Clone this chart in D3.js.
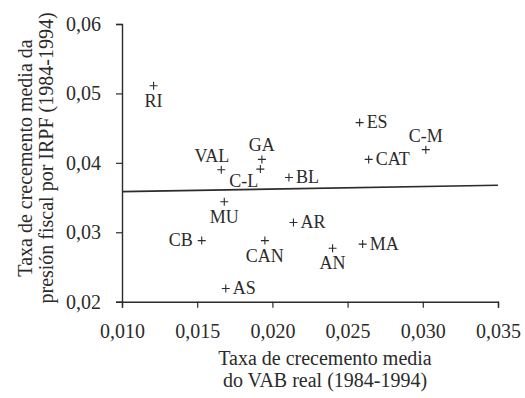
<!DOCTYPE html>
<html>
<head>
<meta charset="utf-8">
<script src="https://cdn.jsdelivr.net/npm/d3@7"></script>
<style>
html,body{margin:0;padding:0;background:#fff;}
svg{display:block;}
</style>
</head>
<body>
<svg id="chart" width="525" height="398" font-family="Liberation Serif"></svg>
<script>
// Data
const regions = ["RI","VAL","GA","C-L","BL","MU","AR","ES","CAT","C-M","CB","CAN","AN","MA","AS"];
const vabGrowth = [0.0121,0.0166,0.0193,0.0192,0.0211,0.0168,0.0214,0.0258,0.0264,0.0302,0.0153,0.0195,0.0240,0.0260,0.0169];
const irpfGrowth = [0.0511,0.0390,0.0405,0.0391,0.0379,0.0344,0.0314,0.0458,0.0405,0.0419,0.0288,0.0288,0.0277,0.0283,0.0219];
const labelPlacement = ["b","tl","t","bl","r","b","r","r","r","t","l","b","b","r","r"];
const xTicks = [0.010,0.015,0.020,0.025,0.030,0.035];
const yTicks = [0.02,0.03,0.04,0.05,0.06];
const trendX = [0.010,0.035];
const trendY = [0.03585,0.03677];
const xTitle = ["Taxa de crecemento media","do VAB real (1984-1994)"];
const yTitle = ["Taxa de crecemento media da","presión fiscal por IRPF (1984-1994)"];

const ink = "#2b2b2b";
const FONT = "Liberation Serif";
const svg = d3.select("#chart");
const x = d3.scaleLinear().domain([0.010,0.035]).range([122,498]);
const y = d3.scaleLinear().domain([0.02,0.06]).range([301.7,24]);
const fmt = (d,n) => d.toFixed(n).replace(".",",");

// X axis
const xAxis = d3.axisBottom(x).tickValues(xTicks).tickSize(6).tickPadding(4)
  .tickFormat(d => fmt(d,3));
const gx = svg.append("g").attr("transform",`translate(0,${y(0.02)})`).call(xAxis)
  .attr("font-family",FONT);
gx.select(".domain").attr("stroke",ink).attr("stroke-width",1.4);
gx.selectAll(".tick line").attr("stroke",ink).attr("stroke-width",1.2);
gx.selectAll(".tick text").attr("font-size",20).attr("font-family",FONT).attr("fill",ink)
  .attr("dy",null).attr("y",36);

// Y axis
const yAxis = d3.axisLeft(y).tickValues(yTicks).tickSize(6).tickPadding(15)
  .tickFormat(d => fmt(d,2));
const gy = svg.append("g").attr("transform",`translate(${x(0.010)},0)`).call(yAxis)
  .attr("font-family",FONT);
gy.select(".domain").attr("stroke",ink).attr("stroke-width",1.4);
gy.selectAll(".tick line").attr("stroke",ink).attr("stroke-width",1.2);
gy.selectAll(".tick text").attr("font-size",20).attr("font-family",FONT).attr("fill",ink)
  .attr("dy",null).attr("y",6.5);

// Trend line
svg.append("line")
  .attr("x1",x(trendX[0])).attr("y1",y(trendY[0]))
  .attr("x2",x(trendX[1])).attr("y2",y(trendY[1]))
  .attr("stroke",ink).attr("stroke-width",1.6);

// Points
const pts = regions.map((r,i)=>({name:r,vx:vabGrowth[i],vy:irpfGrowth[i],pos:labelPlacement[i]}));
const s = 4;
const g = svg.append("g");
g.selectAll("path.plus").data(pts).enter().append("path")
  .attr("class","plus")
  .attr("d",d=>{const px=x(d.vx),py=y(d.vy);return `M${px-s},${py}H${px+s}M${px},${py-s}V${py+s}`;})
  .attr("stroke",ink).attr("stroke-width",1.1).attr("fill","none");

const off = {
  t:{dx:0,dy:-8,a:"middle"},
  b:{dx:0,dy:21,a:"middle"},
  r:{dx:7,dy:5.5,a:"start"},
  l:{dx:-9,dy:5.5,a:"end"},
  tl:{dx:8,dy:-8,a:"end"},
  bl:{dx:-2,dy:18,a:"end"}
};
g.selectAll("text.lab").data(pts).enter().append("text")
  .attr("class","lab")
  .attr("x",d=>x(d.vx)+off[d.pos].dx)
  .attr("y",d=>y(d.vy)+off[d.pos].dy)
  .attr("text-anchor",d=>off[d.pos].a)
  .attr("font-family",FONT).attr("fill",ink)
  .attr("font-size",18)
  .text(d=>d.name);

// Axis titles
svg.append("g").selectAll("text").data(xTitle).enter().append("text")
  .attr("x",325).attr("y",(d,i)=>365+i*21.5)
  .attr("text-anchor","middle").attr("font-family",FONT).attr("fill",ink)
  .attr("font-size",20).text(d=>d);

svg.append("g").attr("transform","translate(0,158) rotate(-90)")
  .selectAll("text").data(yTitle).enter().append("text")
  .attr("x",0).attr("y",(d,i)=>32+i*20.5)
  .attr("text-anchor","middle").attr("font-family",FONT).attr("fill",ink)
  .attr("font-size",20).text(d=>d);
</script>
</body>
</html>
